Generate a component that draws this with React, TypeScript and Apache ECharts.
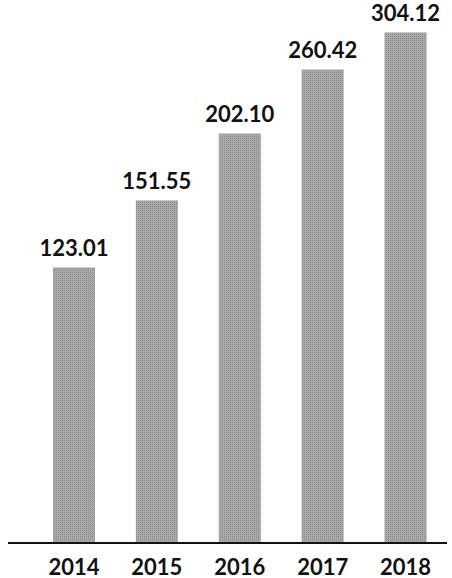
import React, { useEffect, useRef } from "react";
import * as echarts from "echarts";

const years = ["2014", "2015", "2016", "2017", "2018"];
// printed values above the bars
const values = [123.01, 151.55, 202.1, 260.42, 304.12];
// bar heights as drawn in the picture (not proportional to the printed values)
const barHeights = [275.5, 342.5, 409.5, 473.5, 510.5];

export default function App() {
  const ref = useRef<HTMLDivElement>(null);
  useEffect(() => {
    if (!ref.current) return;
    const chart = echarts.init(ref.current, null, { renderer: "svg" });
    const font = "Lato, 'Open Sans', sans-serif";
    chart.setOption({
      animation: false,
      grid: { left: 32.5, right: 5, top: 0, bottom: 35, containLabel: false },
      xAxis: {
        type: "category",
        data: years,
        axisLine: { show: false },
        axisTick: { show: false },
        axisLabel: {
          color: "#111",
          fontSize: 22,
          fontFamily: font,
          fontWeight: "bold",
          margin: 12,
        },
      },
      yAxis: {
        type: "value",
        min: 0,
        max: 543,
        show: false,
        splitLine: { show: false },
      },
      graphic: [
        {
          type: "line",
          shape: { x1: 8, y1: 543, x2: 447, y2: 543 },
          style: { stroke: "#111", lineWidth: 2 },
          z: 10,
        },
      ],
      series: [
        {
          type: "bar",
          data: barHeights,
          barWidth: 42,
          itemStyle: {
            color: "#a8a8a8",
            decal: {
              symbol: "rect",
              symbolSize: 1,
              color: "rgba(90,90,90,0.35)",
              dashArrayX: [1, 1],
              dashArrayY: [1, 1],
              rotation: 0,
            },
          },
          label: {
            show: true,
            position: "top",
            distance: 9,
            color: "#111",
            fontSize: 22,
            fontFamily: font,
            fontWeight: "bold",
            formatter: (p: any) => values[p.dataIndex].toFixed(2),
          },
        },
      ],
    });
    return () => chart.dispose();
  }, []);
  return <div ref={ref} style={{ width: 452, height: 578, position: "absolute", left: 0, top: 0 }} />;
}
